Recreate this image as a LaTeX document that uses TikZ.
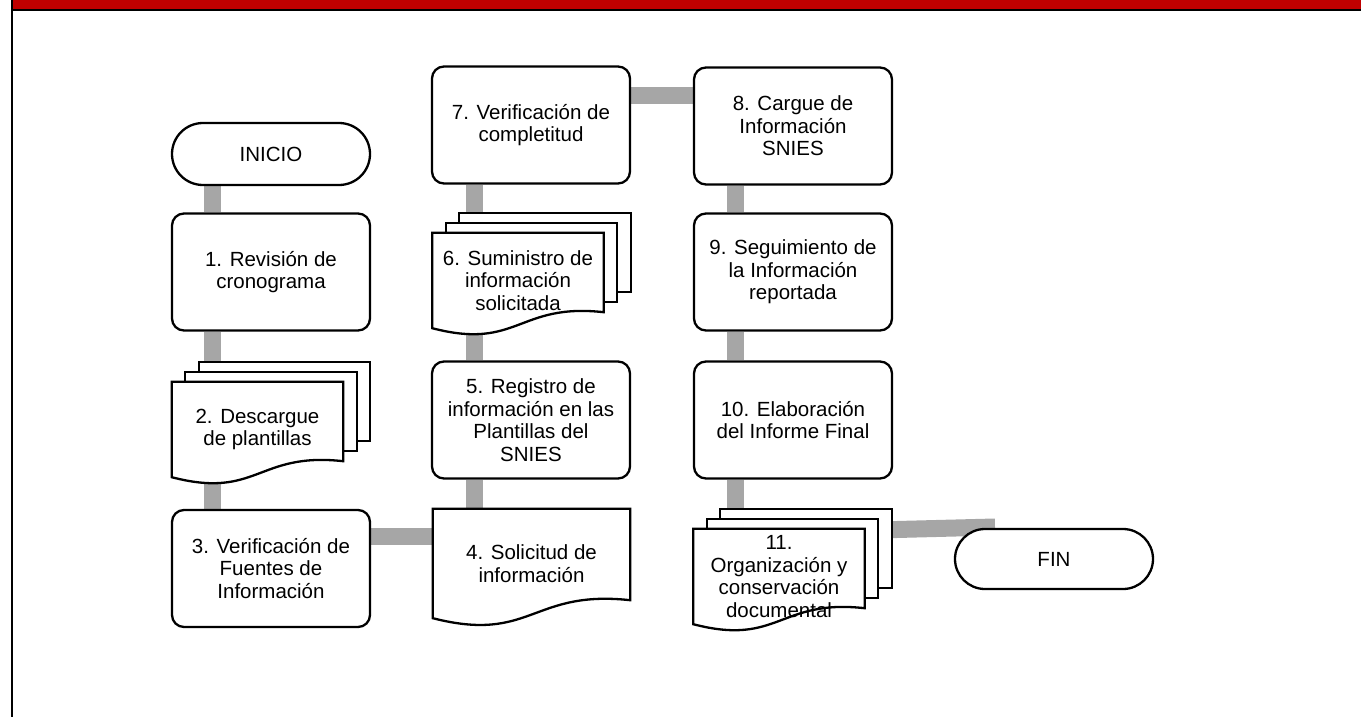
\documentclass[tikz,border=0pt]{standalone}
\usepackage{fontspec}
\setmainfont{Liberation Sans}
\usetikzlibrary{shapes.misc,calc}
\pgfdeclarelayer{background}
\pgfdeclarelayer{shapes}
\pgfsetlayers{background,shapes,main}
\definecolor{hdrred}{HTML}{C00000}
\definecolor{conngray}{HTML}{A6A6A6}
\tikzset{
  txt/.style={font=\fontsize{20.5}{22.5}\selectfont, align=center, inner sep=0pt},
  procbox/.style={txt, draw, line width=2.3pt, fill=white, rounded corners=12pt, minimum width=198pt, minimum height=117pt},
  termbox/.style={txt, draw, line width=2.3pt, fill=white, rounded rectangle, minimum width=198pt, minimum height=62pt},
  docnode/.style={txt, minimum width=171pt, minimum height=95pt},
  sheet/.style={draw, line width=2.3pt, fill=white, line join=miter},
  conn/.style={draw=conngray, line width=17pt},
}
\newcommand\docshape[2]{%
  \draw[sheet] (#1.north west) -- (#1.north east) -- ($(#1.south east)+(0,-#2)$)
    .. controls ($(#1.south)+(0,-1.6*#2)$) and ($(#1.south)+(0,1.4*#2)$) .. (#1.south west) -- cycle;}
\newcommand\mdocshape[1]{%
  \draw[sheet] ($(#1.north west)+(27,-20)$) rectangle ($(#1.south east)+(27,-36)$);
  \draw[sheet] ($(#1.north west)+(13.5,-10)$) rectangle ($(#1.south east)+(13.5,-26)$);
  \docshape{#1}{16}}
\begin{document}
\begin{tikzpicture}[x=1pt,y=-1pt]
\useasboundingbox (0,0) rectangle (1361,717);
% frame
\fill[hdrred] (12,0) rectangle (1361,9.5);
\draw[line width=2pt] (12,10.5) -- (1361,10.5);
\draw[line width=2pt] (12,0) -- (12,717);

% nodes
\node[termbox] (ini) at (271,154) {INICIO};
\node[procbox] (b1) at (271,272) {1. Revisión de\\cronograma};
\node[docnode] (d2) at (257.5,429.5) {2. Descargue\\de plantillas};
\node[procbox] (b3) at (271,568.5) {3. Verificación de\\Fuentes de\\Información};
\node[docnode, minimum width=197pt, minimum height=109pt] (d4) at (531.5,563.5) {4. Solicitud de\\información};
\node[procbox] (b5) at (531,420) {5. Registro de\\información en las\\Plantillas del\\SNIES};
\node[docnode] (d6) at (518,280.5) {6. Suministro de\\información\\solicitada};
\node[procbox] (b7) at (531,125) {7. Verificación de\\completitud};
\node[procbox] (b8) at (793,126) {8. Cargue de\\Información\\SNIES};
\node[procbox] (b9) at (793,272) {9. Seguimiento de\\la Información\\reportada};
\node[procbox] (b10) at (793,420) {10. Elaboración\\del Informe Final};
\node[docnode] (d11) at (779,576.5) {11.\\Organización y\\conservación\\documental};
\node[termbox, minimum height=60pt] (fin) at (1054,559) {FIN};

% document shapes
\begin{pgfonlayer}{shapes}
\mdocshape{d2}
\mdocshape{d6}
\mdocshape{d11}
\docshape{d4}{18}
\end{pgfonlayer}

% connectors
\begin{pgfonlayer}{background}
\draw[conn] ([xshift=-59pt]ini.south) -- ([xshift=-59pt]b1.north);
\draw[conn] ([xshift=-59pt]b1.south) -- ([xshift=-59pt]b1.south |- d2.center);
\draw[conn] ([xshift=-59pt]b3.north |- d2.center) -- ([xshift=-59pt]b3.north);
\draw[conn] ([yshift=32pt]b3.east) -- ([yshift=32pt]b3.east -| d4.west);
\draw[conn] ([xshift=-57pt]d4.north) -- ([xshift=-57pt]d4.north |- b5.south);
\draw[conn] ([xshift=-57pt]b5.north) -- ([xshift=-57pt]b5.north |- d6.center);
\draw[conn] ([xshift=-57pt]b7.south |- d6.center) -- ([xshift=-57pt]b7.south);
\draw[conn] ([yshift=29pt]b7.east) -- ([yshift=29pt]b7.east -| b8.west);
\draw[conn] ([xshift=-58pt]b8.south) -- ([xshift=-58pt]b9.north);
\draw[conn] ([xshift=-58pt]b9.south) -- ([xshift=-58pt]b10.north);
\draw[conn] ([xshift=-58pt]b10.south) -- ([xshift=-58pt]b10.south |- d11.center);
\coordinate (finin) at ($(fin.center)+(-59,-32)$);
\draw[conn] ([yshift=44pt]d11.center) -- (finin);
\end{pgfonlayer}
\end{tikzpicture}
\end{document}
